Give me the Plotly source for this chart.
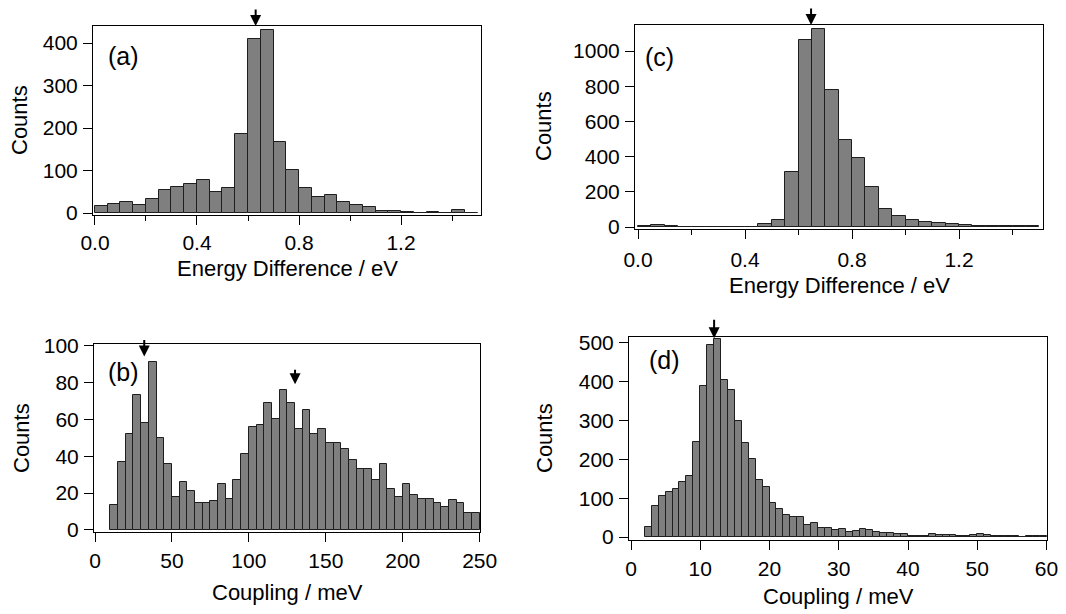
import plotly.graph_objects as go

W, H = 1066, 614
FONT = "Liberation Sans, Arial, Helvetica, sans-serif"

# ---------------- data ----------------
# (a) energy difference histogram, bin width 0.05 eV starting at 0.0
a_bin_start, a_bin_width = 0.0, 0.05
a_counts = [16, 21, 25, 20, 34, 53, 62, 69, 78, 50, 58, 187, 409, 431, 168,
            101, 60, 37, 43, 25, 18, 14, 5, 4, 3, 1, 2, 1, 7, 1]

# (b) coupling histogram, bin width 5 meV starting at 10 meV
b_bin_start, b_bin_width = 10, 5
b_counts = [13.5, 37, 52, 73, 58, 91, 50, 36, 18, 26, 21, 14.5, 14.5, 15.5, 25, 17,
            27, 41, 56, 57, 69, 60, 76, 69, 55, 65, 52, 55, 47, 47, 44, 38,
            33, 33, 27, 36, 22, 18, 25, 19, 17, 17, 14.5, 12.5, 16, 14.5, 9, 9]

# (c) energy difference histogram, bin width 0.05 eV starting at 0.0
c_bin_start, c_bin_width = 0.0, 0.05
c_counts = [8, 13, 4, 2, 2, 1, 2, 2, 2, 15, 42, 315, 1062, 1126, 781,
            493, 391, 229, 102, 61, 38, 30, 25, 19, 9, 8, 8, 8, 4, 4]

# (d) coupling histogram, bin width 1 meV starting at 2 meV
d_bin_start, d_bin_width = 2, 1
d_counts = [27, 79, 105, 117, 124, 142, 157, 245, 388, 495, 509, 404, 378, 299,
            243, 200, 146, 130, 88, 72, 57, 51, 51, 31, 36, 22, 22, 19, 21, 12,
            15, 20, 17, 12, 10, 10, 7, 7, 2, 3, 2, 7, 5, 5, 5, 3, 3, 5, 7, 5,
            2, 2, 2, 2, 1, 2, 2, 2]

# arrow marker positions (x value, y value of arrow tip)
a_arrows = [(0.63, 440)]
b_arrows = [(32, 94), (130, 79)]
c_arrows = [(0.647, 1148)]
d_arrows = [(12, 512)]

energy_title = "Energy Difference / eV"
coupling_title = "Coupling / meV"
counts_title = "Counts"


def centers(start, width, n):
    return [start + width * (i + 0.5) for i in range(n)]


# ---------------- layout in pixels ----------------
panels = {
    "a": dict(px=(93, 481, 26, 215), xr=(-0.0078, 1.5137), yr=(-4.7, 440),
              counts=a_counts, start=a_bin_start, width=a_bin_width, arrows=a_arrows,
              ydtick=100, xdtick=0.4, xminor=0.2, xfmt=".1f", xtitle=energy_title,
              label="(a)", label_pos=(106, 56), xt_pos=(287, 268), yt_pos=(20, 120),
              arrow_len=[18], xstand=0),
    "b": dict(px=(94, 480, 344, 532), xr=(-0.65, 250.2), yr=(-1.1, 100.8),
              counts=b_counts, start=b_bin_start, width=b_bin_width, arrows=b_arrows,
              ydtick=20, xdtick=50, xminor=None, xfmt="d", xtitle=coupling_title,
              label="(b)", label_pos=(106, 372), xt_pos=(287, 592), yt_pos=(21, 438),
              arrow_len=[18, 16], xstand=1),
    "c": dict(px=(635, 1043, 25, 229), xr=(-0.0112, 1.514), yr=(-11, 1148),
              counts=c_counts, start=c_bin_start, width=c_bin_width, arrows=c_arrows,
              ydtick=200, xdtick=0.4, xminor=0.2, xfmt=".1f", xtitle=energy_title,
              label="(c)", label_pos=(643, 57), xt_pos=(839, 285), yt_pos=(544, 126),
              arrow_len=[18], xstand=3),
    "d": dict(px=(629, 1047, 337, 540), xr=(-0.29, 60.07), yr=(-7.7, 515),
              counts=d_counts, start=d_bin_start, width=d_bin_width, arrows=d_arrows,
              ydtick=100, xdtick=10, xminor=None, xfmt="d", xtitle=coupling_title,
              label="(d)", label_pos=(647, 360), xt_pos=(838, 596), yt_pos=(544, 438),
              arrow_len=[20], xstand=1),
}

fig = go.Figure()
annotations = []

for i, (key, p) in enumerate(panels.items()):
    n = i + 1
    xa = "x" if n == 1 else f"x{n}"
    ya = "y" if n == 1 else f"y{n}"
    xaxis_name = "xaxis" if n == 1 else f"xaxis{n}"
    yaxis_name = "yaxis" if n == 1 else f"yaxis{n}"
    left, right, top, bottom = p["px"]

    fig.add_trace(go.Bar(
        x=centers(p["start"], p["width"], len(p["counts"])),
        y=p["counts"],
        width=p["width"],
        marker=dict(color="#7f7f7f", line=dict(color="#1e1e1e", width=1)),
        xaxis=xa, yaxis=ya, showlegend=False, hoverinfo="x+y",
    ))

    xaxis = dict(
        domain=[left / W, right / W], range=list(p["xr"]), anchor=ya,
        showline=True, linecolor="black", linewidth=1, mirror=True,
        ticks="outside", ticklen=9, tickwidth=1, tickcolor="black",
        dtick=p["xdtick"], tick0=0, tickformat=p["xfmt"],
        showgrid=False, zeroline=False, automargin=False,
        tickfont=dict(family=FONT, size=21, color="black"),
        ticklabelstandoff=p["xstand"],
    )
    if p["xminor"]:
        xaxis["minor"] = dict(dtick=p["xminor"], tick0=0, ticks="outside",
                              ticklen=5, tickwidth=1, tickcolor="black", showgrid=False)
    yaxis = dict(
        domain=[1 - bottom / H, 1 - top / H], range=list(p["yr"]), anchor=xa,
        showline=True, linecolor="black", linewidth=1, mirror=True,
        ticks="outside", ticklen=9, tickwidth=1, tickcolor="black",
        dtick=p["ydtick"], tick0=0,
        showgrid=False, zeroline=False, automargin=False,
        tickfont=dict(family=FONT, size=21, color="black"),
        ticklabelstandoff=1,
    )
    fig.update_layout(**{xaxis_name: xaxis, yaxis_name: yaxis})

    lx, ly = p["label_pos"]
    annotations.append(dict(text=p["label"], x=lx / W, y=1 - ly / H, xref="paper", yref="paper",
                            xanchor="left", yanchor="middle", showarrow=False,
                            font=dict(family=FONT, size=25, color="black")))
    tx, ty = p["xt_pos"]
    annotations.append(dict(text=p["xtitle"], x=tx / W, y=1 - ty / H, xref="paper", yref="paper",
                            xanchor="center", yanchor="middle", showarrow=False,
                            font=dict(family=FONT, size=22, color="black")))
    yx, yy = p["yt_pos"]
    annotations.append(dict(text=counts_title, x=yx / W, y=1 - yy / H, xref="paper", yref="paper",
                            xanchor="center", yanchor="middle", showarrow=False, textangle=-90,
                            font=dict(family=FONT, size=22, color="black")))
    for (ax_val, ay_val), alen in zip(p["arrows"], p["arrow_len"]):
        annotations.append(dict(text="", x=ax_val, y=ay_val, xref=xa, yref=ya,
                                showarrow=True, arrowhead=2, arrowsize=1.1, arrowwidth=2,
                                arrowcolor="black", ax=0, ay=-alen, standoff=0))

fig.update_layout(
    width=W, height=H, margin=dict(l=0, r=0, t=0, b=0, autoexpand=False),
    paper_bgcolor="white", plot_bgcolor="white",
    bargap=0, annotations=annotations, showlegend=False,
    font=dict(family=FONT, color="black"),
)

fig.write_html("out.html", config={"displayModeBar": False},
               post_script="document.body.style.margin='0px';")
